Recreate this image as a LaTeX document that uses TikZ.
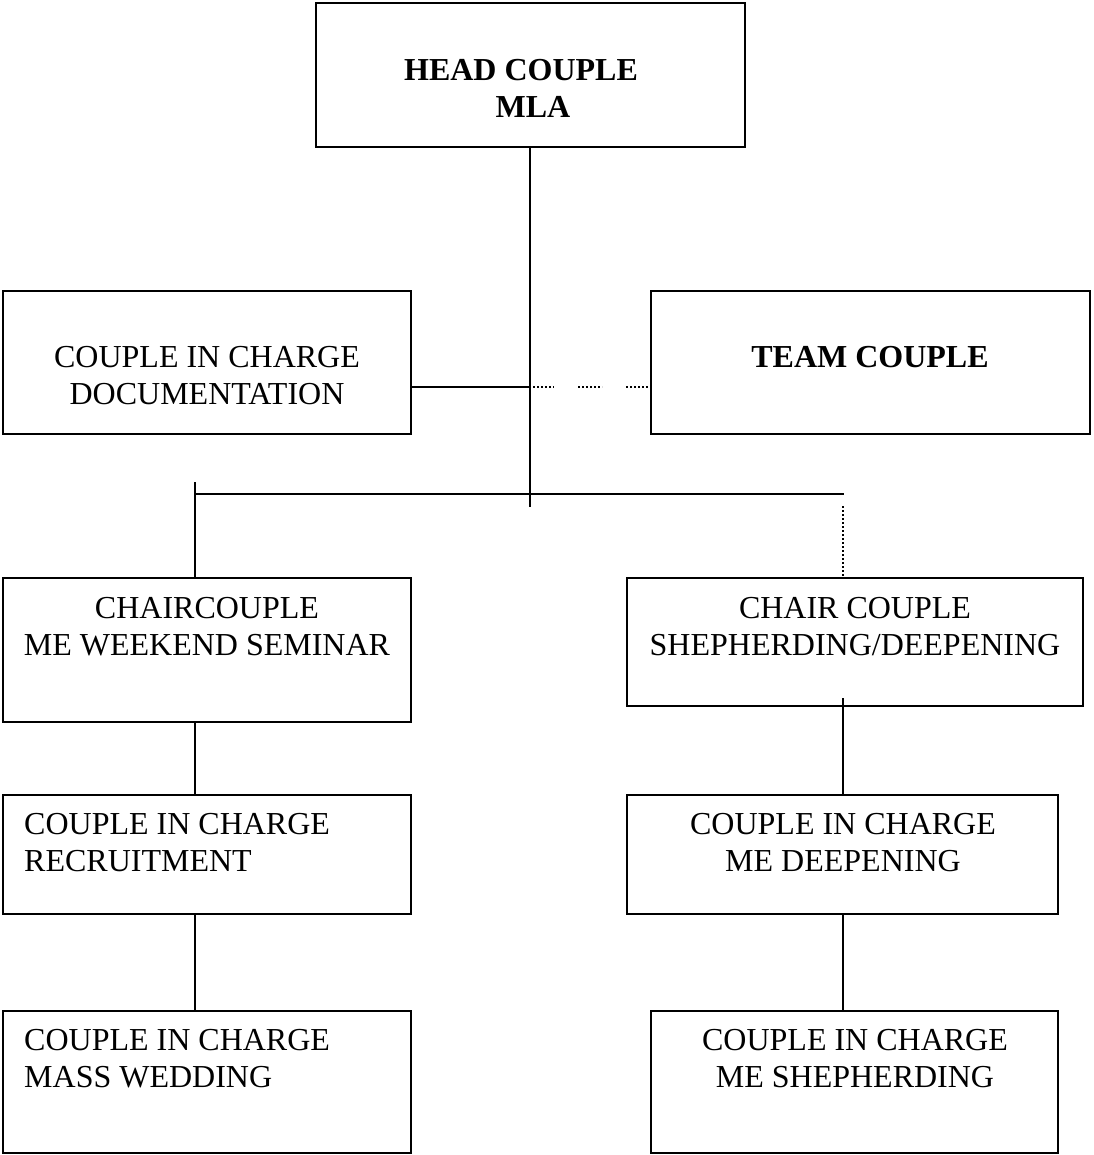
\documentclass[tikz,border=0pt]{standalone}
\usepackage{fontspec}
\setmainfont{Liberation Serif}
\begin{document}
\begin{tikzpicture}[x=1pt,y=-1pt,
  box/.style={draw, line width=2pt, rectangle, inner sep=0pt, outer sep=0pt},
  lbl/.style={font=\fontsize{32}{37}\selectfont, align=center, inner sep=0pt},
  lbll/.style={font=\fontsize{32}{37}\selectfont, align=left, inner sep=0pt, anchor=west},
  conn/.style={line width=2pt},
  dot/.style={line width=1.2pt, dash pattern=on 2pt off 2pt}]
\useasboundingbox (0,0) rectangle (1093,1155);
% boxes
\node[box, minimum width=429pt, minimum height=144pt] (head) at (530.5,75) {};
\node[box, minimum width=408pt, minimum height=143pt] (doc) at (207,362.5) {};
\node[box, minimum width=439pt, minimum height=143pt] (team) at (870.5,362.5) {};
\node[box, minimum width=408pt, minimum height=144pt] (chairL) at (207,650) {};
\node[box, minimum width=456pt, minimum height=128pt] (chairR) at (855,642) {};
\node[box, minimum width=408pt, minimum height=119pt] (recr) at (207,854.5) {};
\node[box, minimum width=431pt, minimum height=119pt] (deep) at (842.5,854.5) {};
\node[box, minimum width=408pt, minimum height=142pt] (mass) at (207,1082) {};
\node[box, minimum width=407pt, minimum height=142pt] (shep) at (854.5,1082) {};
% texts
\node[lbl, font=\fontsize{32}{37}\selectfont\bfseries] (theadA) at (521,70) {HEAD COUPLE};
\node[lbl, font=\fontsize{32}{37}\selectfont\bfseries] (theadB) at (533,107) {MLA};
\node[lbl] (tdoc) at (207,376) {COUPLE IN CHARGE\\DOCUMENTATION};
\node[lbl, font=\fontsize{32}{37}\selectfont\bfseries] (tteam) at (870,357) {TEAM COUPLE};
\node[lbl] (tchairL) at (207,627) {CHAIRCOUPLE\\ME WEEKEND SEMINAR};
\node[lbl] (tchairR) at (855,627) {CHAIR COUPLE\\SHEPHERDING/DEEPENING};
\node[lbll] (trecr) at (24,843) {COUPLE IN CHARGE\\RECRUITMENT};
\node[lbl] (tdeep) at (843,843) {COUPLE IN CHARGE\\ME DEEPENING};
\node[lbll] (tmass) at (24,1059) {COUPLE IN CHARGE\\MASS WEDDING};
\node[lbl] (tshep) at (855,1059) {COUPLE IN CHARGE\\ME SHEPHERDING};
% coordinates
\coordinate (jd) at (530,387);
\coordinate (stem) at (530,507);
\coordinate (busL) at (195,494);
\coordinate (busR) at (844,494);
\coordinate (Ltop) at (195,482);
\coordinate (Rtop) at (843,506);
\coordinate (Rin) at (843,698);
\coordinate (d1a) at (533,387);
\coordinate (d1b) at (554,387);
\coordinate (d2a) at (578,387);
\coordinate (d2b) at (602,387);
\coordinate (d3a) at (626,387);
% connectors
\draw[conn] (head.south -| stem) -- (stem);
\draw[conn] (doc.east |- jd) -- (jd);
\draw[conn] (busL) -- (busR);
\draw[conn] (Ltop) -- (chairL.north -| Ltop);
\draw[dot] (Rtop) -- (chairR.north -| Rtop);
\draw[dot] (d1a) -- (d1b);
\draw[dot] (d2a) -- (d2b);
\draw[dot] (d3a) -- (team.west |- d3a);
\draw[conn] (Rin) -- (deep.north -| Rin);
\draw[conn] (chairL.south -| Ltop) -- (recr.north -| Ltop);
\draw[conn] (recr.south -| Ltop) -- (mass.north -| Ltop);
\draw[conn] (deep.south -| Rin) -- (shep.north -| Rin);
\end{tikzpicture}
\end{document}
